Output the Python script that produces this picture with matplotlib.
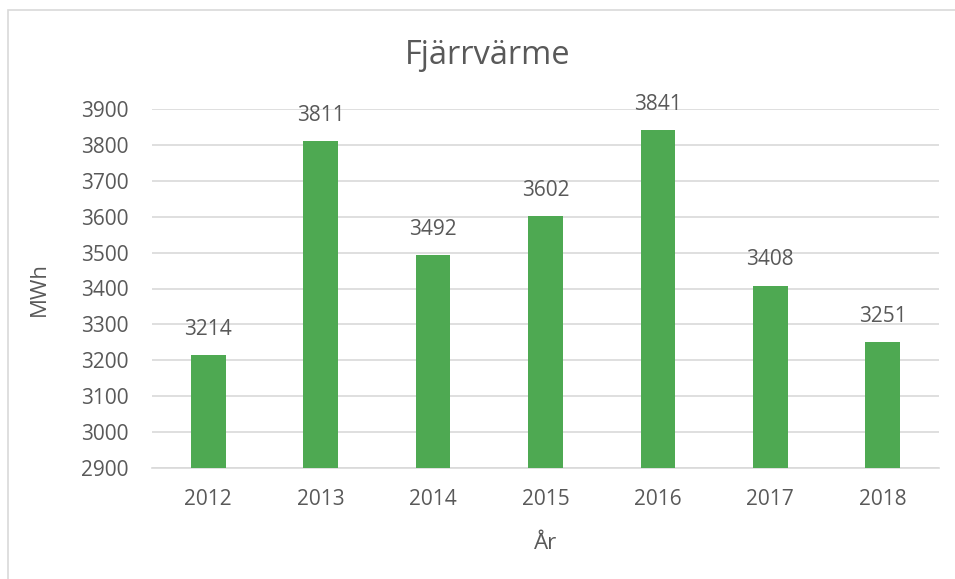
import matplotlib
matplotlib.use("Agg")
import matplotlib.pyplot as plt
from matplotlib.patches import Rectangle

years = ["2012", "2013", "2014", "2015", "2016", "2017", "2018"]
values = [3214, 3811, 3492, 3602, 3841, 3408, 3251]
yticks = [2900, 3000, 3100, 3200, 3300, 3400, 3500, 3600, 3700, 3800, 3900]

W, H = 955, 579
fig = plt.figure(figsize=(W / 100, H / 100), dpi=100)
plt.rcParams['font.family'] = ['Open Sans', 'DejaVu Sans']
txt = '#595959'

# chart border (only left/top visible)
fig.patches.append(Rectangle((8 / W, -0.1), 2, (1 + 0.1) - 10 / H, transform=fig.transFigure,
                             fill=False, edgecolor='#d9d9d9', linewidth=1.2))

left, right, top, bottom = 152, 939, 109, 468
ax = fig.add_axes([left / W, 1 - bottom / H, (right - left) / W, (bottom - top) / H])
x = range(len(years))
bars = ax.bar(x, values, width=0.31, color='#4EA952', zorder=3)
ax.set_xlim(-0.5, len(years) - 0.5)
ax.set_ylim(2900, 3900)
ax.set_yticks(yticks)
ax.set_xticks(list(x))
ax.set_xticklabels(years)
ax.grid(axis='y', color='#d9d9d9', linewidth=1.2, zorder=0)
for s in ['top', 'right', 'left']:
    ax.spines[s].set_visible(False)
ax.spines['bottom'].set_color('#d9d9d9')
ax.spines['bottom'].set_linewidth(1.2)
ax.tick_params(axis='both', length=0, labelsize=15, labelcolor=txt)
ax.tick_params(axis='y', pad=17)
ax.tick_params(axis='x', pad=15)
for xi, v in zip(x, values):
    ax.annotate(f"{v}", (xi, v), xytext=(0, 11), textcoords='offset points',
                ha='center', va='bottom', fontsize=15, color=txt)
ax.set_ylabel("MWh", fontsize=16, color=txt, labelpad=22)
ax.set_xlabel("År", fontsize=16, color=txt, labelpad=17)
fig.text(488 / W, 1 - 55 / H, "Fjärrvärme", ha='center', va='center', fontsize=23.5, color=txt)

fig.savefig("out.png", dpi=100, facecolor='white')
